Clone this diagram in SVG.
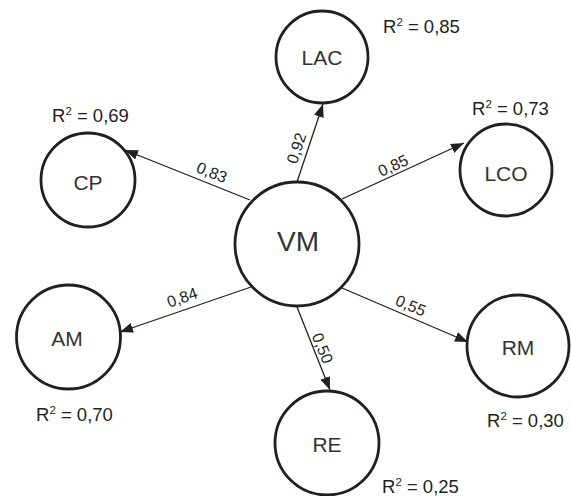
<svg xmlns="http://www.w3.org/2000/svg" width="571" height="496" viewBox="0 0 571 496">
<defs>
<style>
.node{fill:#fff;stroke:#231f20;stroke-width:2.8}
.nl{font-family:"Liberation Sans",Arial,sans-serif;font-size:21px;fill:#333;text-anchor:middle}
.el{font-family:"Liberation Sans",Arial,sans-serif;font-size:16px;fill:#231f20;text-anchor:middle}
.r2{font-family:"Liberation Sans",Arial,sans-serif;font-size:18.5px;fill:#231f20}
.sup{font-size:11.5px}
.edge{stroke:#231f20;stroke-width:1.3;fill:none;marker-end:url(#arr)}
</style>
<marker id="arr" markerUnits="userSpaceOnUse" markerWidth="14" markerHeight="10" refX="13" refY="5" orient="auto">
<path d="M0,0 L13,5 L0,10 Z" fill="#231f20"/>
</marker>
</defs>
<g id="connectors">
<line class="edge" x1="297" y1="182" x2="323" y2="104"/>
<line class="edge" x1="342" y1="199" x2="464" y2="143"/>
<line class="edge" x1="250" y1="200" x2="125" y2="150"/>
<line class="edge" x1="251" y1="287" x2="120" y2="332"/>
<line class="edge" x1="297" y1="307" x2="330" y2="390"/>
<line class="edge" x1="342" y1="288" x2="468" y2="342"/>
<text class="el" transform="translate(296,148) rotate(-71.6)" y="6">0,92</text>
<text class="el" transform="translate(393,165) rotate(-24.7)" y="6">0,85</text>
<text class="el" transform="translate(212,172) rotate(21.8)" y="6">0,83</text>
<text class="el" transform="translate(182,297) rotate(-19)" y="6">0,84</text>
<text class="el" transform="translate(411,305) rotate(23.2)" y="6">0,55</text>
<text class="el" transform="translate(323,348) rotate(68)" y="6">0,50</text>
</g>
<g id="VM">
<circle class="node" cx="297" cy="244" r="62"/>
<text class="nl" x="298" y="251" style="font-size:28px">VM</text>
</g>
<g id="LAC">
<circle class="node" cx="322" cy="57" r="46"/>
<text class="nl" x="322" y="65">LAC</text>
<text class="r2" x="383" y="33">R<tspan class="sup" dy="-7">2</tspan><tspan dy="7"> = 0,85</tspan></text>
</g>
<g id="CP">
<circle class="node" cx="88" cy="180" r="47"/>
<text class="nl" x="88" y="190">CP</text>
<text class="r2" x="52" y="122">R<tspan class="sup" dy="-7">2</tspan><tspan dy="7"> = 0,69</tspan></text>
</g>
<g id="LCO">
<circle class="node" cx="506" cy="170" r="46"/>
<text class="nl" x="506" y="181">LCO</text>
<text class="r2" x="472" y="115">R<tspan class="sup" dy="-7">2</tspan><tspan dy="7"> = 0,73</tspan></text>
</g>
<g id="AM">
<circle class="node" cx="68.5" cy="337" r="52"/>
<text class="nl" x="67" y="346">AM</text>
<text class="r2" x="36" y="421">R<tspan class="sup" dy="-7">2</tspan><tspan dy="7"> = 0,70</tspan></text>
</g>
<g id="RM">
<circle class="node" cx="518" cy="346" r="51"/>
<text class="nl" x="518" y="355">RM</text>
<text class="r2" x="487" y="427">R<tspan class="sup" dy="-7">2</tspan><tspan dy="7"> = 0,30</tspan></text>
</g>
<g id="RE">
<circle class="node" cx="327" cy="443" r="52"/>
<text class="nl" x="327" y="452">RE</text>
<text class="r2" x="382" y="493">R<tspan class="sup" dy="-7">2</tspan><tspan dy="7"> = 0,25</tspan></text>
</g>
</svg>
